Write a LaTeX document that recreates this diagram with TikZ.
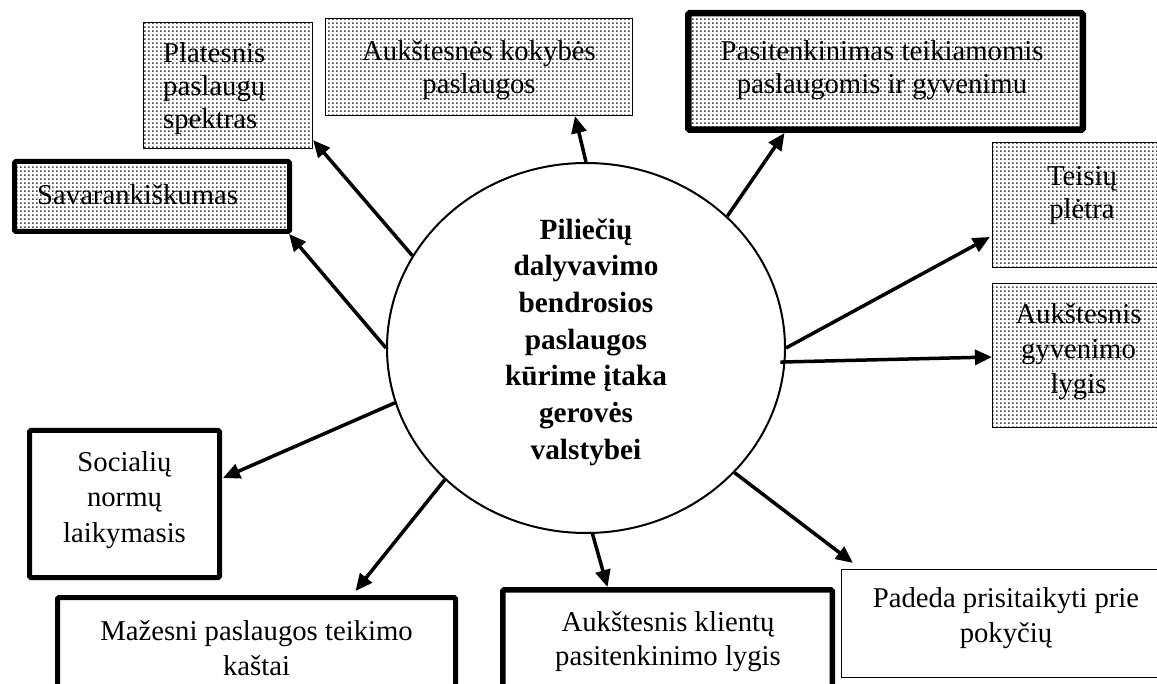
\documentclass[tikz,border=0pt]{standalone}
\usepackage{fontspec}
\setmainfont{Liberation Serif}
\usetikzlibrary{shapes.geometric,arrows.meta,patterns.meta,calc}
\tikzdeclarepattern{
  name=refdots,
  type=uncolored,
  bounding box={(0pt,0pt) and (4pt,4pt)},
  tile size={(4pt,4pt)},
  code={\pgfpathrectangle{\pgfpoint{0pt}{0pt}}{\pgfpoint{2pt}{2pt}}\pgfusepath{fill}}
}
\begin{document}
\begin{tikzpicture}[x=1pt,y=-1pt,
  boxbase/.style={rectangle, draw, inner sep=0pt},
  dotbox/.style={boxbase, line width=1.2pt, preaction={fill=white}, pattern=refdots, pattern color=black!72},
  plainbox/.style={boxbase, line width=1.2pt, fill=white},
  boldbox/.style={boxbase, line width=#1, rounded corners=1.5pt, fill=white},
  bolddotbox/.style={boxbase, line width=#1, rounded corners=1.5pt, preaction={fill=white}, pattern=refdots, pattern color=black!72},
  txt/.style={inner sep=0pt, align=center, font=\fontsize{28.7}{33}\selectfont},
  centretxt/.style={inner sep=0pt, align=center, font=\bfseries\fontsize{29.3}{36.7}\selectfont},
  arr/.style={line width=3.5pt, -{Triangle[length=17pt,width=15pt]}}
]
\useasboundingbox (0,0) rectangle (1157,684);
\fill[white] (0,0) rectangle (1157,684);
\clip (0,0) rectangle (1157,684);

% centre ellipse
\node[ellipse, draw, line width=2pt, minimum width=398pt, minimum height=370pt, inner sep=0pt] (c) at (586,348) {};
\node[centretxt] (ct) at (586,342) {Piliečių\\dalyvavimo\\bendrosios\\paslaugos\\kūrime įtaka\\gerovės\\valstybei};

% boxes (outer edges measured, path inset by half line width)
\node[dotbox, minimum width=169pt, minimum height=126pt] (pl) at (228,85.5) {};
\node[txt, align=left, anchor=west] (plt) at (163,89) {Platesnis\\paslaugų\\spektras};

\node[dotbox, minimum width=307pt, minimum height=97pt] (aks) at (479,67) {};
\node[txt] (akst) at (479,70.5) {Aukštesnės kokybės\\paslaugos};

\node[bolddotbox=6.5pt, minimum width=394.5pt, minimum height=116.5pt] (pas) at (885.5,71.5) {};
\node[txt] (past) at (882,70.5) {Pasitenkinimas teikiamomis\\paslaugomis ir gyvenimu};

\node[dotbox, minimum width=179pt, minimum height=125pt] (tei) at (1082,205) {};
\node[txt] (teit) at (1082,196) {Teisių\\plėtra};

\node[dotbox, minimum width=172pt, minimum height=144pt] (agl) at (1078.5,355.5) {};
\node[txt, font=\fontsize{28.7}{35}\selectfont] (aglt) at (1078.5,352) {Aukštesnis\\gyvenimo\\lygis};

\node[bolddotbox=5pt, minimum width=275pt, minimum height=70pt] (sav) at (152,196.5) {};
\node[txt, anchor=west] (savt) at (37,195) {Savarankiškumas};

\node[boldbox=5pt, minimum width=190pt, minimum height=147pt] (soc) at (124.5,504) {};
\node[txt, font=\fontsize{28.7}{35.5}\selectfont] (soct) at (124.5,500) {Socialių\\normų\\laikymasis};

\node[boldbox=5pt, minimum width=398pt, minimum height=100pt] (maz) at (256.5,647.5) {};
\node[txt, font=\fontsize{28.7}{35.5}\selectfont] (mazt) at (256.5,648) {Mažesni paslaugos teikimo\\kaštai};

\node[boldbox=5.5pt, minimum width=329.5pt, minimum height=107.5pt] (akl) at (667.5,643.5) {};
\node[txt, font=\fontsize{28.7}{34}\selectfont] (aklt) at (668,642) {Aukštesnis klientų\\pasitenkinimo lygis};

\node[plainbox, minimum width=329pt, minimum height=108pt] (pad) at (1006,623.5) {};
\node[txt, font=\fontsize{28.7}{35}\selectfont] (padt) at (1006,618) {Padeda prisitaikyti prie\\pokyčių};

% connectors
\draw[arr] (c.152) -- ($(pl.south east)+(0,-9)$);
\draw[arr] (c.180) -- ($(sav.south east)+(-3,0)$);
\draw[arr] (c.90) -- ($(aks.south)+(96,0)$);
\draw[arr] (c.43) -- ($(pas.south)+(-101,0)$);
\draw[arr] (c.0) -- ($(tei.west)+(-2,32)$);
\draw[arr, shorten <=-5pt] (c.-4) -- ($(agl.west)+(0,1.5)$);
\draw[arr] (c.-40) -- ($(pad.north west)+(12,-6)$);
\draw[arr] (c.-88) -- ($(akl.north)+(-60,0)$);
\draw[arr] (c.223.5) -- ($(maz.north)+(99,-4)$);
\draw[arr] (c.196) -- ($(soc.east)+(1,-26)$);
\end{tikzpicture}
\end{document}
